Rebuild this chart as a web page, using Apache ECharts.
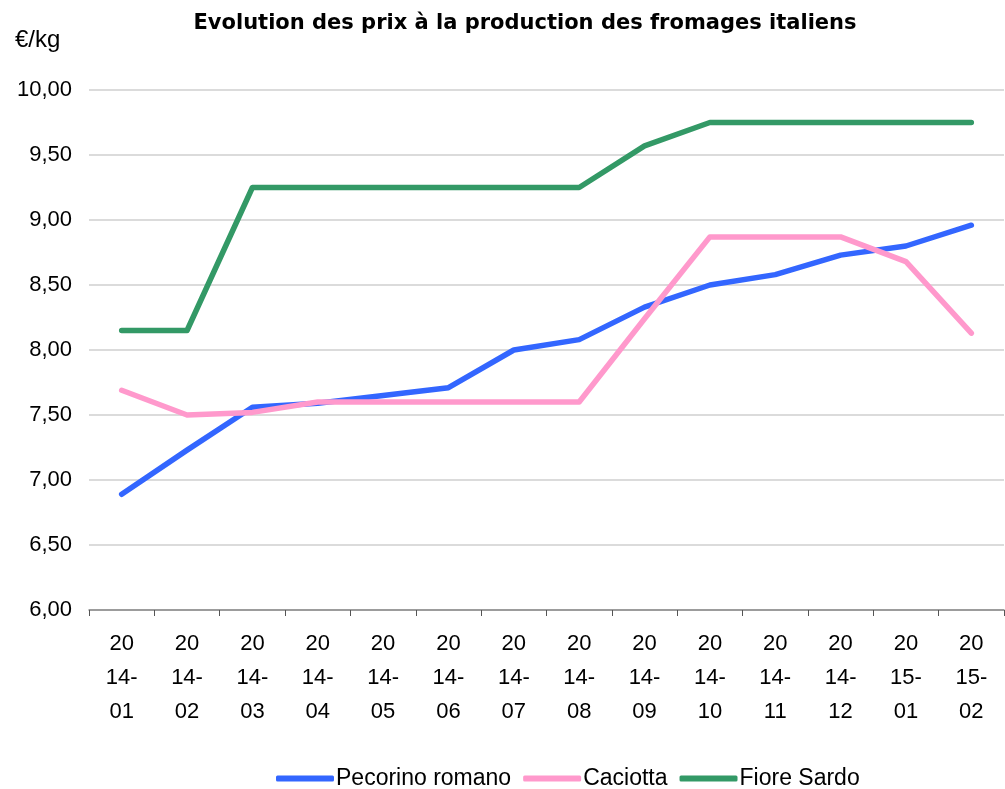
<!DOCTYPE html>
<html><head><meta charset="utf-8">
<script src="https://cdn.jsdelivr.net/npm/echarts@6/dist/echarts.min.js"></script>
<style>html,body{margin:0;padding:0;background:#fff}#c{width:1005px;height:789px}</style>
</head><body><div id="c"></div>
<script>
const categories = ['2014-01','2014-02','2014-03','2014-04','2014-05','2014-06','2014-07','2014-08','2014-09','2014-10','2014-11','2014-12','2015-01','2015-02'];
const pecorino = [6.89, 7.23, 7.56, 7.59, 7.65, 7.71, 8.00, 8.08, 8.33, 8.50, 8.58, 8.73, 8.80, 8.96];
const caciotta = [7.69, 7.50, 7.52, 7.60, 7.60, 7.60, 7.60, 7.60, 8.24, 8.87, 8.87, 8.87, 8.68, 8.13];
const fiore = [8.15, 8.15, 9.25, 9.25, 9.25, 9.25, 9.25, 9.25, 9.57, 9.75, 9.75, 9.75, 9.75, 9.75];
const font = 'Liberation Sans, Arial, sans-serif';
const chart = echarts.init(document.getElementById('c'));
function fmtLabel(v){ return v.slice(0,2) + '\n' + v.slice(2,5) + '\n' + v.slice(5); }
function mk(name, data, color){
  return {name, type:'line', data, symbol:'none', smooth:false,
    lineStyle:{color, width:5.5, cap:'round', join:'round'}, itemStyle:{color}};
}
chart.setOption({
  animation:false,
  title:{text:'Evolution des prix à la production des fromages italiens', left:520, top:8, textAlign:'center',
    textStyle:{fontFamily:'DejaVu Sans, sans-serif', fontSize:21, fontWeight:'bold', color:'#000'}},
  graphic:[{type:'text', left:15, top:28, style:{text:'€/kg', font:'24px '+font, fill:'#000'}}],
  legend:{top:762, left:271, itemWidth:58, itemHeight:6, itemGap:12, icon:'roundRect',
    textStyle:{fontFamily:font, fontSize:23, color:'#000', padding:[0,0,0,-3]},
    data:['Pecorino romano','Caciotta','Fiore Sardo']},
  grid:{left:89, right:1, top:90, bottom:179, containLabel:false},
  xAxis:{type:'category', data:categories, boundaryGap:true,
    axisLine:{lineStyle:{color:'#888', width:1.5}},
    axisTick:{show:true, length:6, lineStyle:{color:'#555'}},
    axisLabel:{formatter:fmtLabel, fontFamily:font, fontSize:22, color:'#000', lineHeight:34, margin:17, interval:0}},
  yAxis:{type:'value', min:6, max:10, interval:0.5,
    axisLine:{show:false}, axisTick:{show:false},
    splitLine:{lineStyle:{color:'#cfcfcf', width:1.5}},
    axisLabel:{formatter:v=>v.toFixed(2).replace('.',','), fontFamily:font, fontSize:22, color:'#000', margin:17}},
  series:[mk('Pecorino romano', pecorino, '#3366ff'), mk('Caciotta', caciotta, '#ff99cc'), mk('Fiore Sardo', fiore, '#339966')]
});
</script></body></html>
